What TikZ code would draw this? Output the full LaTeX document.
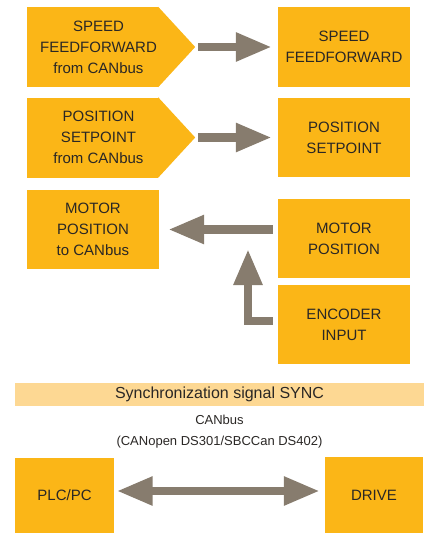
\documentclass[tikz,border=0pt]{standalone}
\usepackage{fontspec}
\setmainfont{Liberation Sans}
\usepackage{tikz}
\usetikzlibrary{arrows.meta,positioning}

\definecolor{boxorange}{HTML}{FBB617}
\definecolor{syncorange}{HTML}{FDD893}
\definecolor{arrowgray}{HTML}{877C6E}
\definecolor{textgray}{HTML}{2A2725}

\begin{document}
\begin{tikzpicture}[
  x=1pt, y=-1pt,
  box/.style={rectangle, fill=boxorange, text=textgray, align=center, inner sep=0pt,
    minimum width=132pt, minimum height=79pt, font=\fontsize{15}{21}\selectfont},
  pointbox/.style={box, minimum width=131pt, minimum height=80pt,
    append after command={\pgfextra{\fill[boxorange] (\tikzlastnode.north east)
      -- ([xshift=37pt]\tikzlastnode.east) -- (\tikzlastnode.south east) -- cycle;}}},
  boxlabel/.style={text=textgray, align=center, inner sep=0pt, xshift=6pt,
    font=\fontsize{15}{21}\selectfont},
  flow/.style={draw=arrowgray, line width=8.5pt, -{Triangle[length=36pt,width=27pt]}},
  caption/.style={text=textgray, inner sep=0pt, font=\fontsize{13}{16}\selectfont}
]
\useasboundingbox (0,0) rectangle (425,533);

% feedforward and setpoint from the bus
\node[pointbox, label={[boxlabel]center:SPEED\\FEEDFORWARD\\from CANbus}] (sffrom) at (92.5,47) {};
\node[box, minimum height=80pt] (sff) at (344,47) {SPEED\\FEEDFORWARD};
\node[pointbox, label={[boxlabel]center:POSITION\\SETPOINT\\from CANbus}] (psfrom) at (92.5,137.5) {};
\node[box] (ps) at (344,137.5) {POSITION\\SETPOINT};

% position back to the bus
\node[box] (mcan) at (93,229.5) {MOTOR\\POSITION\\to CANbus};
\node[box] (mpos) at (344,238.5) {MOTOR\\POSITION};
\node[box] (enc) at (344,324.5) {ENCODER\\INPUT};
\coordinate (uptip) at (248,249);

\draw[flow, shorten <=40pt, shorten >=6pt] (sffrom.east) -- (sff.west |- sffrom.east);
\draw[flow, shorten <=40pt, shorten >=6pt] (psfrom.east) -- (ps.west |- psfrom.east);
\draw[flow, shorten <=5pt, shorten >=9pt] (mpos.west |- mcan.east) -- (mcan.east);
\draw[flow, shorten <=5pt] ([yshift=3.5pt]enc.west) -| (uptip);

% bus
\node[rectangle, fill=syncorange, text=textgray, inner sep=0pt, minimum width=409pt,
  minimum height=23pt, font=\fontsize{16}{19}\selectfont] (sync) at (219.5,394.3)
  {Synchronization signal SYNC};
\node[caption] (canbus) at (219.5,420) {CANbus};
\node[caption] (canopen) at (219.5,442) {(CANopen DS301/SBCCan DS402)};

\node[box, minimum width=99pt, minimum height=75pt] (plc) at (64.5,495.5) {PLC/PC};
\node[box, minimum width=98pt, minimum height=76pt] (drive) at (374,495) {DRIVE};
\draw[draw=arrowgray, line width=8.5pt, {Triangle[length=36pt,width=27pt]}-{Triangle[length=36pt,width=27pt]},
  shorten <=2.5pt, shorten >=5pt] (plc.east |- 0,491) -- (drive.west |- 0,491);
\end{tikzpicture}
\end{document}
